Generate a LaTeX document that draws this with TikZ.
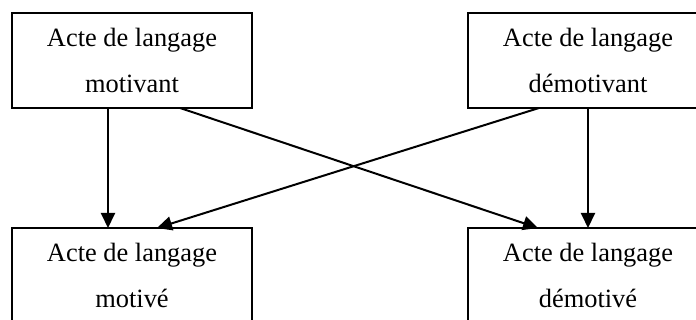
\documentclass[tikz,border=0pt]{standalone}
\usepackage{fontspec}
\setmainfont{Liberation Serif}
\usetikzlibrary{arrows.meta}
\usetikzlibrary{positioning}

\tikzset{
  acte/.style={draw, line width=2pt, outer sep=0pt, inner sep=0pt,
    minimum width=240pt, minimum height=95pt, align=center,
    font=\fontsize{26.4}{46}\selectfont}
}

\begin{document}
\begin{tikzpicture}[->, >={Triangle[length=15pt,width=14pt]}, line width=2pt, x=1pt, y=1pt]

    \useasboundingbox (0,0) rectangle (696,320);

    % Nodes
    \node[acte] (motivant) at (132,259.5) {Acte de langage\\motivant};
    \node[acte, right=216pt of motivant] (demotivant) {Acte de langage\\démotivant};

    % More nodes
    \node[acte, below=120pt of motivant] (motive) {Acte de langage\\motivé};
    \node[acte, below=120pt of demotivant] (demotive) {Acte de langage\\démotivé};

    \draw ([xshift=-24pt]motivant.south) -- ([xshift=-24pt]motive.north);
    \draw (demotivant.south) -- (demotive.north);
    \draw ([xshift=48pt]motivant.south) -- ([xshift=-50pt]demotive.north);
    \draw ([xshift=-49pt]demotivant.south) -- ([xshift=25pt]motive.north);

\end{tikzpicture}
\end{document}
